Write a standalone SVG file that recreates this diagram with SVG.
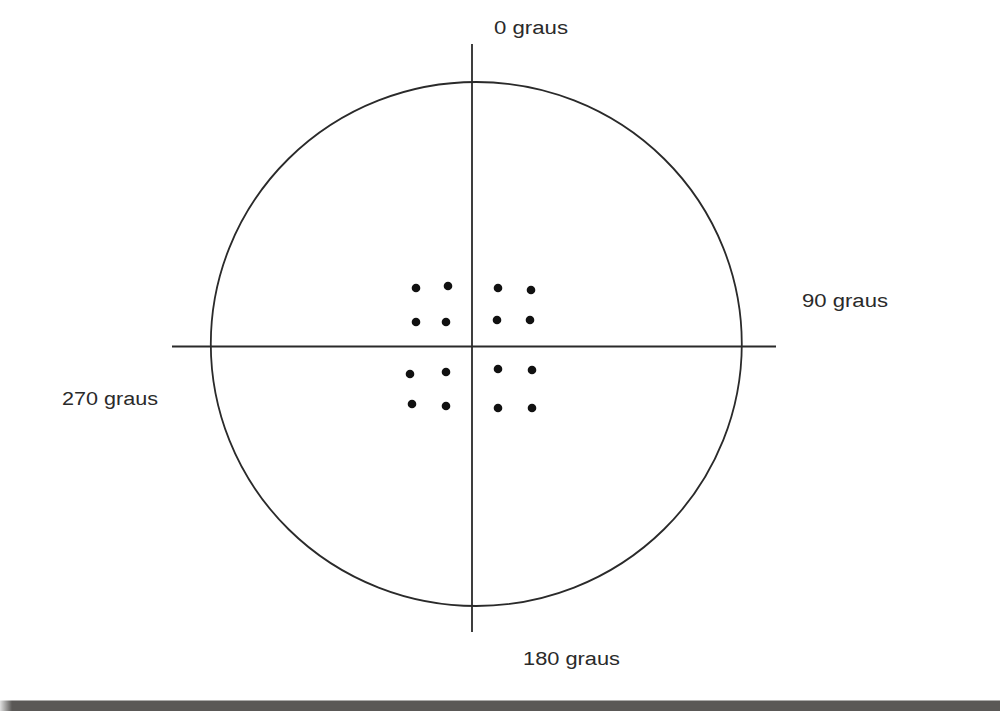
<svg xmlns="http://www.w3.org/2000/svg" width="1000" height="711" viewBox="0 0 1000 711">
<defs>
<style>
.ln{stroke:#2a2a2a;stroke-width:1.8;fill:none}
.lbl{font-family:"Liberation Sans",Arial,sans-serif;font-size:18px;fill:#2a2a2a}
.dot{fill:#111}
</style>
<linearGradient id="barg" x1="0" y1="0" x2="1" y2="0">
<stop offset="0" stop-color="#e0e0e0"/>
<stop offset="0.012" stop-color="#5a5856"/>
<stop offset="1" stop-color="#5a5856"/>
</linearGradient>
</defs>
<rect width="1000" height="711" fill="#fff"/>
<g id="circle"><ellipse class="ln" cx="476.3" cy="344" rx="265.5" ry="262"/></g>
<g id="axes">
<line class="ln" x1="472" y1="44" x2="472" y2="632"/>
<line class="ln" x1="172" y1="346.5" x2="776" y2="346.5"/>
</g>
<g id="dots">
<circle class="dot" cx="416" cy="288" r="4.3"/><circle class="dot" cx="448" cy="286" r="4.3"/>
<circle class="dot" cx="498" cy="288" r="4.3"/><circle class="dot" cx="531" cy="290" r="4.3"/>
<circle class="dot" cx="416" cy="322" r="4.3"/><circle class="dot" cx="446" cy="322" r="4.3"/>
<circle class="dot" cx="497" cy="320" r="4.3"/><circle class="dot" cx="530" cy="320" r="4.3"/>
<circle class="dot" cx="410" cy="374" r="4.3"/><circle class="dot" cx="446" cy="372" r="4.3"/>
<circle class="dot" cx="498" cy="369" r="4.3"/><circle class="dot" cx="532" cy="370" r="4.3"/>
<circle class="dot" cx="412" cy="404" r="4.3"/><circle class="dot" cx="446" cy="406" r="4.3"/>
<circle class="dot" cx="498" cy="408" r="4.3"/><circle class="dot" cx="532" cy="408" r="4.3"/>
</g>
<g id="label-0"><text class="lbl" x="494" y="34" textLength="74" lengthAdjust="spacingAndGlyphs">0 graus</text></g>
<g id="label-90"><text class="lbl" x="802" y="307" textLength="86" lengthAdjust="spacingAndGlyphs">90 graus</text></g>
<g id="label-270"><text class="lbl" x="62" y="405" textLength="96" lengthAdjust="spacingAndGlyphs">270 graus</text></g>
<g id="label-180"><text class="lbl" x="523" y="665" textLength="97" lengthAdjust="spacingAndGlyphs">180 graus</text></g>
<rect x="0" y="700.5" width="1000" height="10.5" fill="url(#barg)"/>
</svg>
